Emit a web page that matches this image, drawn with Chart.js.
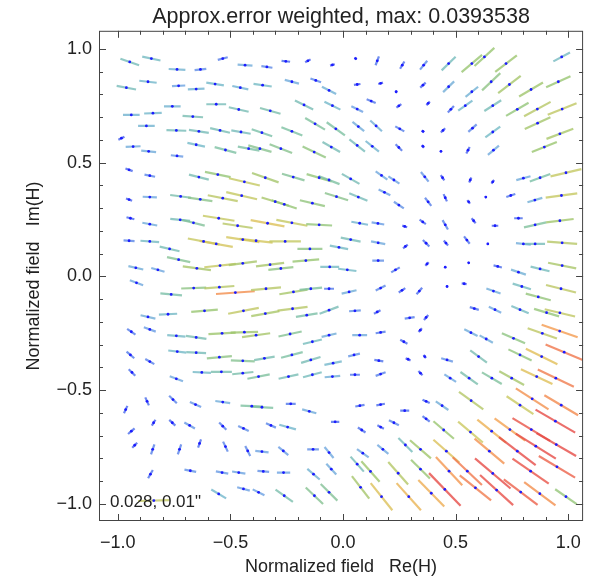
<!DOCTYPE html>
<html>
<head>
<meta charset="utf-8">
<script src="https://cdn.jsdelivr.net/npm/chart.js@4.4.1/dist/chart.umd.min.js"></script>
<style>
  html, body { margin: 0; padding: 0; background: #fff; }
  #box { width: 592px; height: 579px; }
</style>
</head>
<body>
<div id="box"><canvas id="fieldChart" width="592" height="579"></canvas></div>
<script>
// each vector: [x, y, u, v]  (centre in normalized field, u/v = drawn vector)
const upperLeft = [
  [-0.947,0.943,0.083,-0.029],[-0.851,0.958,0.081,-0.017],[-0.737,0.910,0.074,-0.004],[-0.633,0.910,0.052,0.006],
  [-0.534,0.958,0.044,0.012],[-0.435,0.929,0.066,-0.004],[-0.338,0.921,0.049,-0.007],[-0.254,0.946,0.038,-0.004],
  [-0.156,0.948,0.024,0.013],[-0.047,0.930,0.021,0.006],
  [-0.962,0.830,0.086,-0.016],[-0.866,0.856,0.077,-0.009],[-0.730,0.838,0.059,0.003],[-0.652,0.824,0.074,0.003],
  [-0.568,0.846,0.078,-0.012],[-0.456,0.830,0.071,-0.015],[-0.357,0.841,0.081,-0.012],[-0.227,0.856,0.063,-0.016],
  [-0.121,0.862,0.047,-0.017],[-0.062,0.818,0.063,-0.032],
  [-0.758,0.748,0.074,0],[-0.563,0.757,0.088,0],[-0.463,0.734,0.088,-0.020],[-0.323,0.728,0.091,-0.025],
  [-0.173,0.754,0.081,-0.039],[-0.047,0.751,0.071,-0.035],[-0.940,0.710,0.074,0],[-0.844,0.718,0.078,0.003],
  [-0.667,0.703,0.091,-0.006],
  [-0.873,0.662,0.074,0],[-0.740,0.642,0.088,-0.003],[-0.640,0.638,0.088,-0.013],[-0.546,0.642,0.088,-0.020],
  [-0.453,0.635,0.086,-0.015],[-0.360,0.632,0.091,-0.031],[-0.227,0.638,0.093,-0.036],[-0.124,0.671,0.088,-0.051],
  [-0.032,0.649,0.081,-0.058],[-0.984,0.608,0.027,0.013],
  [-0.932,0.571,0.066,0.003],[-0.863,0.550,0.066,-0.006],[-0.737,0.530,0.055,-0.006],[-0.652,0.579,0.078,-0.016],
  [-0.522,0.556,0.096,-0.025],[-0.419,0.562,0.096,-0.017],[-0.369,0.562,0.103,-0.029],[-0.276,0.562,0.100,-0.039],
  [-0.128,0.547,0.103,-0.048],[-0.052,0.569,0.078,-0.044],
  [-0.950,0.469,0.032,-0.012],[-0.858,0.443,0.047,-0.009],[-0.640,0.437,0.088,-0.022],[-0.556,0.448,0.114,-0.023],
  [-0.438,0.416,0.137,-0.032],[-0.345,0.434,0.118,-0.041],[-0.221,0.437,0.100,-0.029],[-0.106,0.434,0.111,-0.032],
  [-0.062,0.424,0.093,-0.036],
  [-0.950,0.338,0.027,-0.010],[-0.858,0.349,0.063,-0.003],[-0.721,0.352,0.093,-0.012],[-0.634,0.339,0.108,-0.015],
  [-0.534,0.344,0.133,-0.026],[-0.450,0.355,0.137,-0.031],[-0.301,0.329,0.121,-0.036],[-0.261,0.317,0.111,-0.036],
  [-0.136,0.322,0.111,-0.026],[-0.029,0.351,0.103,-0.032],
  [-0.944,0.256,0.035,-0.009],[-0.858,0.230,0.066,-0.012],[-0.723,0.249,0.088,-0.009],[-0.664,0.236,0.100,-0.025],
  [-0.552,0.256,0.140,-0.022],[-0.468,0.223,0.133,-0.020],[-0.335,0.234,0.150,-0.028],[-0.227,0.236,0.138,-0.026],
  [-0.106,0.227,0.115,-0.006],
  [-0.950,0.157,0.049,-0.003],[-0.858,0.154,0.083,-0.006],[-0.770,0.121,0.088,-0.020],[-0.619,0.154,0.140,-0.026],
  [-0.563,0.143,0.147,-0.026],[-0.445,0.162,0.147,-0.022],[-0.386,0.157,0.147,-0.016],[-0.257,0.154,0.140,0],
  [-0.147,0.121,0.111,0],[-0.018,0.128,0.081,-0.015],
  [-0.920,0.038,0.066,-0.015],[-0.822,0.029,0.059,-0.017],[-0.730,0.074,0.103,-0.022],[-0.649,0.036,0.125,-0.016],
  [-0.546,0.048,0.140,0.015],[-0.445,0.058,0.125,0.016],[-0.324,0.052,0.125,0.015],[-0.276,0.035,0.111,0.012],
  [-0.165,0.070,0.118,0.010],[-0.059,0.042,0.084,0]
];

const upperRight = [
  [0.056,0.958,0.009,-0.009],[0.152,0.948,0.015,0.039],[0.263,0.929,0.019,0.032],[0.358,0.929,0.032,0.039],
  [0.469,0.936,0.062,0.060],[0.572,0.936,0.091,0.076],[0.628,0.965,0.088,0.080],[0.724,0.936,0.096,0.073],
  [0.971,0.965,0.074,0.039],
  [0.063,0.844,0.029,0.004],[0.167,0.849,0.021,0.006],[0.236,0.812,0.007,0.009],[0.355,0.841,0.024,0.022],
  [0.469,0.834,0.049,0.047],[0.572,0.812,0.056,0.044],[0.658,0.856,0.081,0.076],[0.739,0.844,0.100,0.076],
  [0.835,0.822,0.106,0.061],[0.956,0.856,0.108,0.049],
  [0.125,0.771,0.040,-0.016],[0.248,0.750,0.022,0.016],[0.378,0.761,0.015,0.017],[0.479,0.735,0.027,0.029],
  [0.543,0.751,0.063,0.044],[0.665,0.751,0.075,0.047],[0.774,0.735,0.100,0.058],[0.863,0.736,0.118,0.063],
  [0.973,0.736,0.128,0.051],[0.063,0.736,0.052,-0.025],
  [0.068,0.659,0.052,-0.041],[0.147,0.662,0.052,-0.047],[0.252,0.649,0.040,-0.022],[0.355,0.638,0.010,-0.009],
  [0.444,0.642,0.019,0.019],[0.575,0.652,0.037,0.033],[0.665,0.635,0.066,0.048],[0.864,0.674,0.114,0.051],
  [0.963,0.627,0.119,0.044],
  [0.063,0.576,0.069,-0.054],[0.130,0.572,0.059,-0.047],[0.248,0.567,0.029,-0.029],[0.355,0.572,0.009,-0.012],
  [0.435,0.550,0.006,0],[0.555,0.555,0.015,0.028],[0.668,0.555,0.049,0.041],[0.894,0.569,0.111,0.044],
  [0.034,0.429,0.078,-0.044],[0.171,0.444,0.052,-0.036],[0.226,0.424,0.049,-0.032],[0.363,0.438,0.034,-0.042],
  [0.442,0.434,0.016,-0.023],[0.565,0.424,0.010,0.022],[0.665,0.416,0.012,0.016],[0.801,0.432,0.063,0.017],
  [0.875,0.434,0.091,0.033],[0.990,0.456,0.137,0.032],
  [0.068,0.349,0.081,-0.033],[0.184,0.370,0.052,-0.025],[0.248,0.314,0.044,-0.029],[0.378,0.328,0.028,-0.036],
  [0.454,0.346,0.015,-0.032],[0.558,0.328,0.012,-0.015],[0.634,0.349,0.007,0.003],[0.745,0.356,0.040,0.013],
  [0.852,0.336,0.066,0.019],[0.970,0.356,0.140,0.019],
  [0.074,0.234,0.074,-0.013],[0.155,0.233,0.056,-0.009],[0.274,0.220,0.022,-0.007],[0.354,0.240,0.028,-0.019],
  [0.454,0.227,0.024,-0.041],[0.580,0.245,0.018,-0.022],[0.675,0.223,0.029,0],[0.779,0.256,0.038,0],
  [0.853,0.227,0.099,0.022],[0.963,0.245,0.122,0.015],
  [0.034,0.162,0.088,-0.017],[0.156,0.148,0.063,-0.012],[0.277,0.132,0.021,0.016],[0.369,0.146,0.029,-0.029],
  [0.457,0.147,0.019,-0.022],[0.550,0.160,0.025,-0.032],[0.643,0.143,0.005,0],[0.801,0.143,0.066,-0.007],
  [0.853,0.143,0.088,0],[0.973,0.148,0.133,-0.010],
  [0.019,0.029,0.081,-0.010],[0.156,0.070,0.052,0],[0.233,0.029,0.038,0.022],[0.373,0.055,0.015,0.015],
  [0.454,0.041,0.006,0],[0.558,0.060,0.006,0.003],[0.687,0.044,0.037,-0.009],[0.779,0.019,0.066,-0.022],
  [0.875,0.033,0.084,-0.020],[0.973,0.048,0.125,-0.025]
];

const lowerLeft = [
  [-0.917,-0.028,0.059,-0.022],[-0.763,-0.079,0.096,-0.009],[-0.663,-0.051,0.111,0.004],[-0.549,-0.047,0.133,0.010],
  [-0.478,-0.071,0.172,0.012],[-0.342,-0.054,0.133,0.012],[-0.220,-0.068,0.125,0.020],[-0.143,-0.054,0.100,0.010],
  [-0.062,-0.054,0.044,0],
  [-0.866,-0.178,0.066,-0.015],[-0.777,-0.166,0.081,0.004],[-0.615,-0.151,0.118,0.010],[-0.442,-0.151,0.136,0.026],
  [-0.345,-0.163,0.125,0.022],[-0.224,-0.142,0.133,0.017],[-0.161,-0.170,0.096,0.015],[-0.062,-0.148,0.084,0.031],
  [-0.940,-0.243,0.037,-0.025],[-0.858,-0.233,0.053,-0.019],[-0.740,-0.261,0.081,-0.007],[-0.652,-0.268,0.091,-0.013],
  [-0.537,-0.250,0.121,0.007],[-0.438,-0.245,0.122,0.003],[-0.386,-0.258,0.125,0.017],[-0.235,-0.253,0.103,0.022],
  [-0.136,-0.287,0.084,0.020],[-0.062,-0.258,0.066,0.015],
  [-0.944,-0.345,0.034,-0.029],[-0.858,-0.374,0.040,-0.023],[-0.736,-0.330,0.080,-0.009],[-0.652,-0.335,0.088,-0.004],
  [-0.549,-0.355,0.111,0.010],[-0.445,-0.371,0.106,-0.004],[-0.349,-0.360,0.091,0.015],[-0.227,-0.345,0.096,0.025],
  [-0.143,-0.367,0.086,0.026],[-0.044,-0.381,0.077,0.015],
  [-0.937,-0.422,0.029,-0.029],[-0.740,-0.450,0.059,-0.022],[-0.627,-0.422,0.081,-0.004],[-0.540,-0.419,0.093,0],
  [-0.445,-0.425,0.094,0.010],[-0.375,-0.440,0.099,0.019],[-0.242,-0.440,0.088,0.019],[-0.136,-0.432,0.083,0.022],
  [-0.047,-0.440,0.069,0.006],
  [-0.965,-0.585,0.015,0.032],[-0.870,-0.549,0.016,-0.035],[-0.755,-0.541,0.034,-0.033],[-0.655,-0.563,0.050,-0.022],
  [-0.534,-0.552,0.066,-0.009],[-0.405,-0.570,0.100,-0.004],[-0.360,-0.575,0.100,-0.006],[-0.232,-0.560,0.044,0],
  [-0.150,-0.593,0.063,-0.017],[-0.035,-0.639,0.037,0],
  [-0.940,-0.680,0.029,0.025],[-0.841,-0.643,0.016,0.026],[-0.758,-0.643,0.027,-0.025],[-0.681,-0.655,0.047,-0.026],
  [-0.534,-0.658,0.032,-0.032],[-0.442,-0.668,0.047,-0.022],[-0.320,-0.655,0.044,-0.019],[-0.246,-0.662,0.074,-0.020],
  [-0.925,-0.742,0.022,0.022],[-0.845,-0.760,0.015,0.044],[-0.726,-0.760,0.015,0.044],[-0.637,-0.734,0.013,0.036],
  [-0.522,-0.748,0.021,-0.044],[-0.423,-0.767,0.022,-0.044],[-0.360,-0.770,0.059,-0.007],[-0.265,-0.767,0.044,-0.036],
  [-0.133,-0.760,0.052,0],[-0.062,-0.774,0.040,-0.048],
  [-0.855,-0.869,0.021,0.036],[-0.678,-0.854,0.052,-0.010],[-0.537,-0.862,0.055,-0.010],[-0.463,-0.862,0.059,-0.009],
  [-0.354,-0.857,0.052,-0.004],[-0.264,-0.862,0.059,0],[-0.131,-0.869,0.055,-0.047],[-0.052,-0.847,0.044,-0.048],
  [-0.552,-0.956,0.066,-0.039],[-0.442,-0.934,0.056,-0.015],[-0.375,-0.949,0.052,-0.026],[-0.261,-0.964,0.077,-0.054],
  [-0.127,-0.964,0.077,-0.073],[-0.062,-0.949,0.074,-0.073],[-0.840,-0.985,0.140,0.004]
];

const lowerRight = [
  [0.027,-0.068,0.066,0.015],[0.167,-0.051,0.044,0.022],[0.262,-0.061,0.029,0.019],[0.339,-0.064,0.025,0.029],
  [0.462,-0.044,0.006,0.004],[0.538,-0.032,0.022,-0.003],[0.668,-0.064,0.063,-0.022],[0.794,-0.044,0.081,-0.025],
  [0.968,-0.054,0.133,-0.033],[0.867,-0.090,0.111,-0.029],
  [0.053,-0.151,0.052,0.004],[0.152,-0.156,0.029,0.015],[0.296,-0.182,0.044,0.007],[0.369,-0.180,0.019,0.022],
  [0.583,-0.141,0.040,-0.012],[0.675,-0.146,0.055,-0.026],[0.786,-0.146,0.077,-0.032],[0.904,-0.159,0.111,-0.033],
  [0.963,-0.160,0.135,-0.032],
  [0.074,-0.258,0.066,0],[0.167,-0.246,0.044,0.007],[0.343,-0.236,0.015,0.017],[0.270,-0.287,0.032,-0.017],
  [0.568,-0.247,0.059,-0.029],[0.636,-0.275,0.059,-0.032],[0.757,-0.272,0.103,-0.044],[0.885,-0.250,0.130,-0.045],
  [0.962,-0.240,0.160,-0.055],[0.982,-0.333,0.165,-0.068],
  [0.049,-0.345,0.052,0.012],[0.159,-0.370,0.040,-0.007],[0.289,-0.364,0.022,-0.010],[0.363,-0.352,0.010,-0.015],
  [0.462,-0.367,0.052,-0.015],[0.602,-0.352,0.074,-0.054],[0.786,-0.345,0.103,-0.049],[0.882,-0.352,0.140,-0.068],
  [0.053,-0.432,0.044,0],[0.167,-0.429,0.044,0.016],[0.344,-0.425,0.018,-0.019],[0.476,-0.447,0.052,-0.033],
  [0.560,-0.447,0.077,-0.054],[0.661,-0.447,0.088,-0.051],[0.749,-0.447,0.110,-0.060],[0.860,-0.440,0.140,-0.065],
  [0.945,-0.447,0.160,-0.076],
  [0.075,-0.568,0.041,0.007],[0.167,-0.563,0.038,0.007],[0.274,-0.590,0.040,0],[0.369,-0.549,0.032,-0.015],
  [0.440,-0.568,0.056,-0.038],[0.569,-0.546,0.108,-0.077],[0.786,-0.566,0.119,-0.079],[0.840,-0.538,0.145,-0.092],
  [0.969,-0.566,0.150,-0.088],
  [0.083,-0.675,0.034,-0.022],[0.167,-0.662,0.029,-0.015],[0.226,-0.643,0.044,-0.022],[0.369,-0.626,0.032,-0.025],
  [0.447,-0.675,0.091,-0.077],[0.566,-0.684,0.110,-0.092],[0.660,-0.680,0.127,-0.101],[0.741,-0.673,0.136,-0.098],
  [0.836,-0.673,0.167,-0.100],[0.943,-0.636,0.176,-0.101],
  [0.088,-0.777,0.052,-0.036],[0.177,-0.760,0.049,-0.039],[0.277,-0.741,0.062,-0.061],[0.344,-0.760,0.093,-0.080],
  [0.459,-0.768,0.115,-0.100],[0.650,-0.768,0.132,-0.110],[0.774,-0.768,0.163,-0.123],[0.856,-0.746,0.178,-0.110],
  [0.947,-0.739,0.176,-0.101],
  [0.063,-0.825,0.059,-0.066],[0.122,-0.857,0.081,-0.090],[0.245,-0.865,0.088,-0.099],[0.344,-0.847,0.084,-0.083],
  [0.471,-0.856,0.117,-0.124],[0.552,-0.856,0.130,-0.122],[0.665,-0.866,0.158,-0.132],[0.833,-0.856,0.161,-0.110],
  [0.950,-0.837,0.161,-0.095],
  [0.078,-0.927,0.077,-0.099],[0.171,-0.968,0.096,-0.119],[0.292,-0.968,0.108,-0.119],[0.392,-0.953,0.115,-0.116],
  [0.452,-0.936,0.140,-0.143],[0.588,-0.929,0.139,-0.110],[0.682,-0.939,0.147,-0.132],[0.789,-0.948,0.150,-0.112],
  [0.874,-0.955,0.139,-0.102],[0.990,-0.968,0.096,-0.065]
];

const majorTicks = [-1.0, -0.5, 0.0, 0.5, 1.0];
const minorTicks = [-0.9, -0.8, -0.7, -0.6, -0.4, -0.3, -0.2, -0.1, 0.1, 0.2, 0.3, 0.4, 0.6, 0.7, 0.8, 0.9];
const xRange = [-1.0835, 1.066];
const yRange = [-1.075, 1.080];
const chartTitle = 'Approx.error weighted, max: 0.0393538';
const xTitle = 'Normalized field   Re(H)';
const yTitle = 'Normalized field   Im(H)';
const cornerNote = { text: '0.028, 0.01"', x: -1.035, y: -1.012 };

const vectors = [...upperLeft, ...upperRight, ...lowerLeft, ...lowerRight];

// colour by drawn length, blue -> teal -> green -> yellow -> orange -> red
const colourStops = [
  [0.00, [55, 55, 240]], [0.04, [75, 110, 235]], [0.06, [110, 165, 225]], [0.08, [115, 185, 200]],
  [0.10, [125, 192, 160]], [0.12, [155, 198, 110]], [0.145, [205, 200, 95]], [0.158, [230, 188, 85]],
  [0.168, [245, 160, 80]], [0.182, [238, 105, 75]], [0.20, [230, 75, 70]]
];
function colourFor(vec) {
  const len = Math.hypot(vec[2], vec[3]);
  let c = colourStops[colourStops.length - 1][1];
  for (let i = 1; i < colourStops.length; i++) {
    if (len <= colourStops[i][0]) {
      const [l0, c0] = colourStops[i - 1];
      const [l1, c1] = colourStops[i];
      const t = (len - l0) / (l1 - l0);
      c = c0.map((v, k) => v + (c1[k] - v) * t);
      break;
    }
  }
  return `rgba(${c.map(Math.round).join(',')},0.8)`;
}

const segPoints = [];
vectors.forEach(([x, y, u, v]) => {
  segPoints.push({ x: x - u / 2, y: y - v / 2 }, { x: x + u / 2, y: y + v / 2 }, { x: x, y: null });
});
const dotPoints = vectors.map(([x, y]) => ({ x, y }));

const fmt = v => (v < 0 ? '\u2212' : '') + Math.abs(v).toFixed(1);
const textFont = "'Liberation Sans', Arial, sans-serif";

const frameTicks = {
  id: 'frameTicks',
  afterDraw(chart) {
    const { ctx, chartArea: a, scales: { x, y } } = chart;
    ctx.save();
    ctx.strokeStyle = '#444';
    ctx.lineWidth = 1;
    ctx.strokeRect(a.left + 0.5, a.top + 0.5, a.right - a.left - 1, a.bottom - a.top - 1);
    ctx.beginPath();
    const mark = (vals, len) => {
      vals.forEach(v => {
        const px = Math.round(x.getPixelForValue(v)) + 0.5;
        ctx.moveTo(px, a.bottom); ctx.lineTo(px, a.bottom - len);
        ctx.moveTo(px, a.top); ctx.lineTo(px, a.top + len);
        const py = Math.round(y.getPixelForValue(v)) + 0.5;
        ctx.moveTo(a.left, py); ctx.lineTo(a.left + len, py);
        ctx.moveTo(a.right, py); ctx.lineTo(a.right - len, py);
      });
    };
    mark(majorTicks, 7);
    mark(minorTicks, 4);
    ctx.stroke();
    ctx.fillStyle = '#222';
    ctx.font = '17px ' + textFont;
    ctx.textBaseline = 'alphabetic';
    ctx.fillText(cornerNote.text, x.getPixelForValue(cornerNote.x), y.getPixelForValue(cornerNote.y));
    ctx.restore();
  }
};

new Chart(document.getElementById('fieldChart').getContext('2d'), {
  type: 'scatter',
  data: {
    datasets: [
      {
        data: dotPoints,
        order: 0,
        pointRadius: 1.4,
        pointBackgroundColor: '#1c1cff',
        pointBorderWidth: 0,
        showLine: false
      },
      {
        data: segPoints,
        order: 1,
        showLine: true,
        spanGaps: false,
        pointRadius: 0,
        borderWidth: 2.2,
        borderCapStyle: 'butt',
        segment: {
          borderColor: c => colourFor(vectors[Math.floor(c.p0DataIndex / 3)])
        }
      }
    ]
  },
  plugins: [frameTicks],
  options: {
    responsive: false,
    animation: false,
    events: [],
    layout: { padding: { left: 0, right: 4, top: 0, bottom: 0 } },
    plugins: {
      legend: { display: false },
      tooltip: { enabled: false },
      title: {
        display: true,
        text: chartTitle,
        fullSize: false,
        color: '#222',
        font: { family: textFont, size: 21.5, weight: 'normal' },
        padding: { top: 4, bottom: 1 }
      }
    },
    scales: {
      x: {
        type: 'linear',
        min: xRange[0], max: xRange[1],
        afterBuildTicks: s => { s.ticks = majorTicks.map(v => ({ value: v })); },
        afterFit: s => { s.height = 58; },
        grid: { display: false, drawTicks: false },
        border: { display: false },
        ticks: { callback: fmt, color: '#222', padding: 11, maxRotation: 0, font: { family: textFont, size: 18 } },
        title: { display: true, text: xTitle, color: '#222', padding: { top: 0, bottom: 1 }, font: { family: textFont, size: 18 } }
      },
      y: {
        type: 'linear',
        min: yRange[0], max: yRange[1],
        afterBuildTicks: s => { s.ticks = majorTicks.map(v => ({ value: v })); },
        afterFit: s => { s.width = 99; },
        grid: { display: false, drawTicks: false },
        border: { display: false },
        ticks: { callback: fmt, color: '#222', padding: 7, font: { family: textFont, size: 18 } },
        title: { display: true, text: yTitle, color: '#222', padding: { top: 23, bottom: 0 }, font: { family: textFont, size: 18 } }
      }
    }
  }
});
</script>
</body>
</html>
